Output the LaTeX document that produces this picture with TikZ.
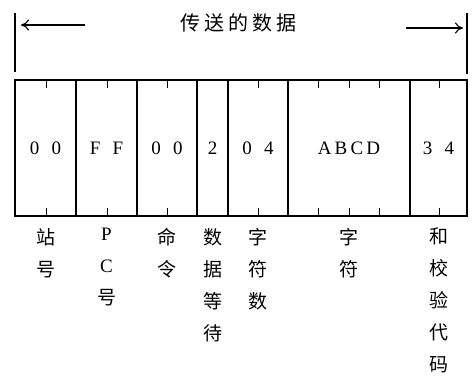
\documentclass[tikz,border=0pt]{standalone}
\usepackage{fontspec}
\setmainfont{Liberation Serif}
\newfontfamily\cjk{Noto Sans CJK SC}
\usetikzlibrary{arrows.meta,positioning}
\tikzset{
  frame/.style={draw=black,line width=1.2pt},
  cell/.style={rectangle,draw=black,line width=1.2pt,minimum height=136pt,
    inner sep=0pt,outer sep=0pt,font=\fontsize{19}{22}\selectfont},
  tick/.style={draw=black,line width=1.0pt},
  lbl/.style={align=center,anchor=north,inner sep=0pt,font=\fontsize{19}{32}\selectfont},
  arrow/.style={-{To[length=8pt,width=11pt]},draw=black,line width=1.1pt},
  title/.style={font=\cjk\fontsize{20}{22}\selectfont},
}
\newcommand{\gap}{\hspace{0.65em}}

\begin{document}
\begin{tikzpicture}[x=1pt,y=-1pt]
\useasboundingbox (0,0) rectangle (472,378);

% title and bounds of the transmitted data
\node[title] (ttl) at (238,23) {传\hspace{4pt}送\hspace{4pt}的\hspace{4pt}数\hspace{4pt}据};

\coordinate (ltop) at (15,13);
\coordinate (lbot) at (15,72);
\coordinate (rtop) at (467,13);
\coordinate (rbot) at (467,74);
\draw[frame] (ltop) -- (lbot);
\draw[frame] (rtop) -- (rbot);

\coordinate (ltail) at (85,25);
\coordinate (lhead) at (21,25);
\coordinate (rtail) at (406,28);
\coordinate (rhead) at (463,28);
\draw[arrow] (ltail) -- (lhead);
\draw[arrow] (rtail) -- (rhead);

% frame fields
\node[cell,minimum width=61pt]  (stn) at (45.5,148)  {0\gap0};
\node[cell,minimum width=61pt]  (pc)  at (106.5,148) {F\gap F};
\node[cell,minimum width=60pt]  (cmd) at (167,148)   {0\gap0};
\node[cell,minimum width=31pt]  (wt)  at (212.5,148) {2};
\node[cell,minimum width=60pt]  (cnt) at (258,148)   {0\gap4};
\node[cell,minimum width=122pt] (chr) at (349,148)   {A\,B\,C\,D};
\node[cell,minimum width=57pt]  (sum) at (438.5,148) {3\gap4};

% character ticks
\foreach \x in {46,107,167,258,318,349,379,439}{
  \draw[tick] (\x,80) -- ++(0,8);
  \draw[tick] (\x,216) -- ++(0,-8);
}

% field names
\node[lbl,below=12pt of stn.south] (lstn) {\cjk 站\\\cjk 号};
\node[lbl,below=12pt of pc.south]  (lpc)  {P\\C\\\cjk 号};
\node[lbl,below=12pt of cmd.south] (lcmd) {\cjk 命\\\cjk 令};
\node[lbl,below=12pt of wt.south]  (lwt)  {\cjk 数\\\cjk 据\\\cjk 等\\\cjk 待};
\node[lbl,below=12pt of cnt.south] (lcnt) {\cjk 字\\\cjk 符\\\cjk 数};
\node[lbl,below=12pt of chr.south] (lchr) {\cjk 字\\\cjk 符};
\node[lbl,below=12pt of sum.south] (lsum) {\cjk 和\\\cjk 校\\\cjk 验\\\cjk 代\\\cjk 码};

\end{tikzpicture}
\end{document}
